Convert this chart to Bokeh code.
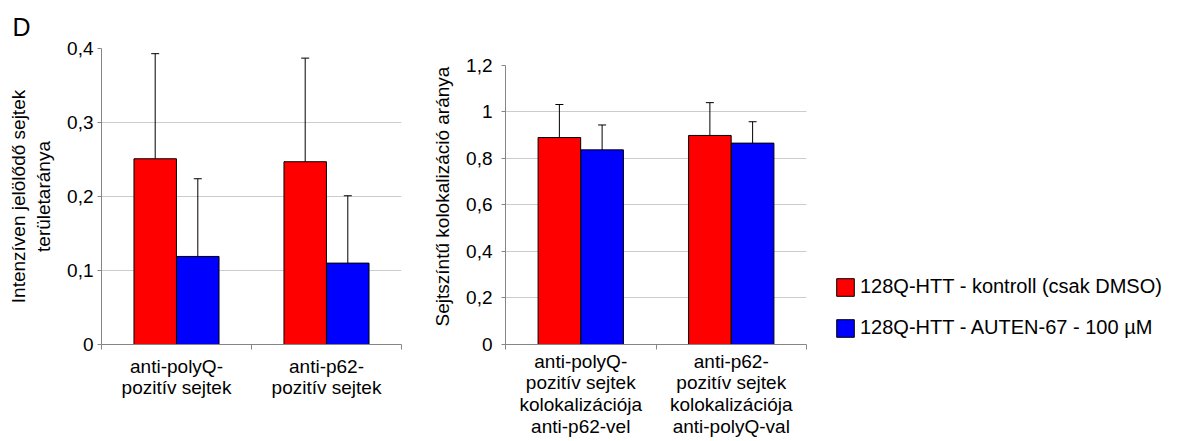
import numpy as np
from bokeh.plotting import figure
from bokeh.models import (ColumnDataSource, Range1d, FixedTicker, CustomJSTickFormatter,
                          Whisker, TeeHead, Legend, LegendItem)
from bokeh.layouts import row
from bokeh.embed import file_html
from bokeh.resources import INLINE

# ---- data ----
cats_left = ["anti-polyQ-\npozitív sejtek", "anti-p62-\npozitív sejtek"]
ctrl_left = [0.251, 0.247]
ctrl_left_err = [0.142, 0.140]
auten_left = [0.119, 0.110]
auten_left_err = [0.105, 0.091]
yticks_left = [0, 0.1, 0.2, 0.3, 0.4]

cats_right = ["anti-polyQ-\npozitív sejtek\nkolokalizációja\nanti-p62-vel",
              "anti-p62-\npozitív sejtek\nkolokalizációja\nanti-polyQ-val"]
ctrl_right = [0.890, 0.899]
ctrl_right_err = [0.142, 0.141]
auten_right = [0.837, 0.866]
auten_right_err = [0.107, 0.092]
yticks_right = [0, 0.2, 0.4, 0.6, 0.8, 1.0, 1.2]

series_names = ["128Q-HTT - kontroll (csak DMSO)", "128Q-HTT - AUTEN-67 - 100 µM"]
series_colors = ["#FF0000", "#0000FF"]

FONT = "Liberation Sans"
AXIS_GRAY = "#868686"
GRID_GRAY = "#cccccc"
BAR_W = 0.283
OFF = 0.142


def build(p, cats, vals, errs, yticks, tick_standoff, cat_standoff, line_h):
    n = len(cats)
    centers = np.arange(n) + 0.5
    renderers = []
    for k, (v, e) in enumerate(zip(vals, errs)):
        v = np.array(v)
        e = np.array(e)
        x = centers + (-OFF if k == 0 else OFF)
        src = ColumnDataSource(dict(x=x, top=v, upper=v + e, lower=v - e))
        r = p.vbar(x="x", top="top", width=BAR_W, source=src,
                   fill_color=series_colors[k], line_color="black", line_width=1)
        renderers.append(r)
        w = Whisker(source=src, base="x", upper="upper", lower="lower",
                    line_color="black", line_width=1,
                    upper_head=TeeHead(size=8, line_color="black", line_width=1),
                    lower_head=TeeHead(size=8, line_color="black", line_width=1))
        p.add_layout(w)

    xa = p.xaxis[0]
    xa.ticker = FixedTicker(ticks=list(centers), minor_ticks=list(np.arange(n + 1)))
    xa.major_label_overrides = {float(c): lab for c, lab in zip(centers, cats)}
    xa.bounds = (0, n)
    xa.major_tick_line_color = None
    xa.major_tick_out = 0
    xa.major_tick_in = 0
    xa.minor_tick_line_color = AXIS_GRAY
    xa.minor_tick_out = 5
    xa.minor_tick_in = 0
    xa.axis_line_color = AXIS_GRAY
    xa.major_label_text_font = FONT
    xa.major_label_text_font_size = "19px"
    xa.major_label_text_color = "black"
    xa.major_label_text_line_height = line_h
    xa.major_label_standoff = cat_standoff

    ya = p.yaxis[0]
    ya.ticker = FixedTicker(ticks=yticks)
    ya.bounds = (yticks[0], yticks[-1])
    ya.formatter = CustomJSTickFormatter(
        code="var s=(Math.round(tick*10)/10).toString(); return s.replace('.', ',');")
    ya.axis_line_color = AXIS_GRAY
    ya.major_tick_line_color = AXIS_GRAY
    ya.major_tick_out = 4
    ya.major_tick_in = 0
    ya.minor_tick_line_color = None
    ya.major_label_text_font = FONT
    ya.major_label_text_font_size = "19px"
    ya.major_label_text_color = "black"
    ya.major_label_standoff = tick_standoff
    ya.axis_label_text_font = FONT
    ya.axis_label_text_font_size = "19px"
    ya.axis_label_text_font_style = "normal"
    ya.axis_label_text_color = "black"
    ya.axis_label_text_line_height = 1.2

    p.xgrid.visible = False
    p.ygrid.ticker = FixedTicker(ticks=yticks[1:-1])
    p.ygrid.cross_bounds = (0, n)
    p.ygrid.grid_line_color = GRID_GRAY
    p.outline_line_color = None
    p.background_fill_color = "white"
    return renderers


TOP, BOTTOM = 48, 95
H = 440
FRAME_H = H - TOP - BOTTOM  # 297

p1 = figure(width=411, height=H, output_backend="svg", toolbar_location=None,
            x_range=Range1d(0, len(cats_left)), y_range=Range1d(0, yticks_left[-1]),
            min_border_left=101, min_border_right=10, min_border_top=TOP, min_border_bottom=BOTTOM)
build(p1, cats_left, [ctrl_left, auten_left], [ctrl_left_err, auten_left_err],
      yticks_left, 4, 6, 1.0)
p1.yaxis[0].axis_label = "Intenzíven jelölődő sejtek\nterületaránya"
p1.yaxis[0].axis_label_standoff = 10
p1.title.text = "D"
p1.title.align = "left"
p1.title.offset = -89
p1.title.standoff = 16
p1.title.text_font = FONT
p1.title.text_font_size = "25px"
p1.title.text_font_style = "normal"
p1.title.text_color = "black"

# right chart: frame runs on to hold the legend; value axis spans 280 of 297 px
W2 = 765
p2_frame_w = W2 - 94 - 7
p2 = figure(width=W2, height=H, output_backend="svg", toolbar_location=None,
            x_range=Range1d(0, len(cats_right) * p2_frame_w / 301.0),
            y_range=Range1d(0, yticks_right[-1] * FRAME_H / 280.0),
            min_border_left=94, min_border_right=7, min_border_top=TOP, min_border_bottom=BOTTOM)
rs = build(p2, cats_right, [ctrl_right, auten_right], [ctrl_right_err, auten_right_err],
           yticks_right, 9, 1, 1.04)
p2.title.visible = False
p2.yaxis[0].axis_label = "Sejtszíntű kolokalizáció aránya"
p2.yaxis[0].axis_label_standoff = 10

legend = Legend(items=[LegendItem(label=series_names[i], renderers=[rs[i]]) for i in range(2)],
                location=(329, 5), orientation="vertical",
                border_line_color=None, background_fill_alpha=0,
                padding=0, margin=0, spacing=18,
                glyph_width=22, glyph_height=22, label_height=22, label_standoff=4,
                label_text_font=FONT, label_text_font_size="20px", label_text_color="black")
p2.add_layout(legend)

layout = row(p1, p2)
open("out.html", "w").write(file_html(layout, INLINE))
